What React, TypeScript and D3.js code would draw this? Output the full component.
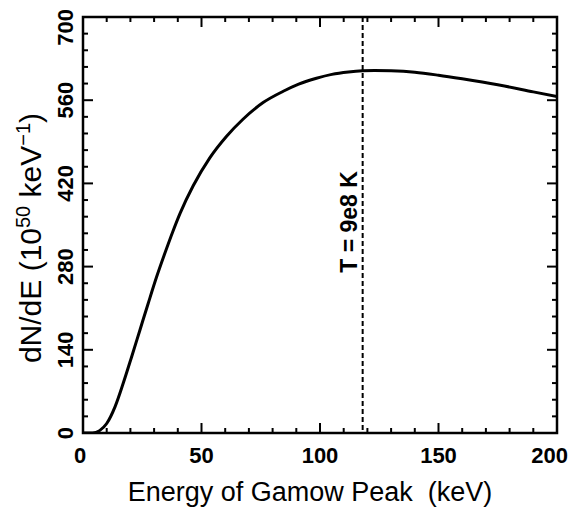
import React from "react";
import * as d3 from "d3";

// Gamow-peak energy spectrum at T = 9e8 K
const energyKeV = [0, 4, 7, 10, 13.5, 17, 20.5, 24, 27.5, 31, 34.5, 38, 41, 46.5, 53.5, 60.5, 67.5, 76, 84.5, 91, 98.5, 105, 112, 118, 123, 130, 140, 150, 160, 175, 190, 200];
const dNdE = [0, 0, 4, 16, 44, 84, 128, 173, 218, 262, 302, 340, 370, 416, 463, 499, 528, 556, 575, 587, 597, 603.5, 607.5, 609.5, 610, 609.5, 607, 602, 596, 586, 574, 566];

const xMajorTicks = [0, 50, 100, 150, 200];
const yMajorTicks = [0, 140, 280, 420, 560, 700];
const peakEnergy = 118;
const peakLabel = "T = 9e8 K";

const W = 571;
const H = 507;
const M = { left: 83, top: 17, right: 557, bottom: 433 };

export default function App() {
  const x = d3.scaleLinear().domain([0, 200]).range([M.left, M.right]);
  const y = d3.scaleLinear().domain([0, 700]).range([M.bottom, M.top]);

  const pts = energyKeV.map((e, i) => [e, dNdE[i]] as [number, number]);
  const line = d3
    .line<[number, number]>()
    .x((d) => x(d[0]))
    .y((d) => y(d[1]))
    .curve(d3.curveMonotoneX);

  const xMinor = d3.range(0, 201, 10).filter((v) => v % 50 !== 0);
  const yMinor = d3.range(0, 701, 28).filter((v) => v % 140 !== 0);
  const majLen = 10;
  const minLen = 5;
  const font = "'Liberation Sans', Arial, Helvetica, sans-serif";

  return (
    <svg width={W} height={H} style={{ position: "absolute", left: 0, top: 0 }} fontFamily={font}>
      <rect width={W} height={H} fill="#fff" />
      <defs>
        <clipPath id="plot">
          <rect x={M.left} y={M.top} width={M.right - M.left} height={M.bottom - M.top} />
        </clipPath>
      </defs>

      {/* ticks on all four sides, pointing inward */}
      <g stroke="#000" strokeWidth={2}>
        {xMajorTicks.map((v) => (
          <g key={"xM" + v}>
            <line x1={x(v)} x2={x(v)} y1={M.bottom} y2={M.bottom - majLen} />
            <line x1={x(v)} x2={x(v)} y1={M.top} y2={M.top + majLen} />
          </g>
        ))}
        {xMinor.map((v) => (
          <g key={"xm" + v}>
            <line x1={x(v)} x2={x(v)} y1={M.bottom} y2={M.bottom - minLen} />
            <line x1={x(v)} x2={x(v)} y1={M.top} y2={M.top + minLen} />
          </g>
        ))}
        {yMajorTicks.map((v) => (
          <g key={"yM" + v}>
            <line x1={M.left} x2={M.left + majLen} y1={y(v)} y2={y(v)} />
            <line x1={M.right} x2={M.right - majLen} y1={y(v)} y2={y(v)} />
          </g>
        ))}
        {yMinor.map((v) => (
          <g key={"ym" + v}>
            <line x1={M.left} x2={M.left + minLen} y1={y(v)} y2={y(v)} />
            <line x1={M.right} x2={M.right - minLen} y1={y(v)} y2={y(v)} />
          </g>
        ))}
      </g>

      {/* spectrum curve */}
      <path d={line(pts) || ""} fill="none" stroke="#000" strokeWidth={3} clipPath="url(#plot)" />

      {/* Gamow peak marker */}
      <line
        x1={x(peakEnergy)}
        x2={x(peakEnergy)}
        y1={M.top}
        y2={M.bottom}
        stroke="#000"
        strokeWidth={2}
        strokeDasharray="5,3"
      />
      <text
        transform={`translate(${x(peakEnergy) - 6},${222}) rotate(-90)`}
        textAnchor="middle"
        fontWeight="bold"
        fontSize={23}
      >
        {peakLabel}
      </text>

      {/* frame */}
      <rect
        x={M.left}
        y={M.top}
        width={M.right - M.left}
        height={M.bottom - M.top}
        fill="none"
        stroke="#000"
        strokeWidth={2.5}
      />

      {/* x tick labels */}
      {xMajorTicks.map((v, i) => {
        const last = i === xMajorTicks.length - 1;
        return (
          <text
            key={"xl" + v}
            x={last ? 568 : x(v) - (i === 0 ? 3 : 0)}
            y={463}
            textAnchor={last ? "end" : "middle"}
            fontWeight="bold"
            fontSize={22}
          >
            {v}
          </text>
        );
      })}
      {/* y tick labels */}
      {yMajorTicks.map((v, i) => {
        const last = i === yMajorTicks.length - 1;
        return (
          <text
            key={"yl" + v}
            transform={`translate(${73},${last ? 9 : y(v)}) rotate(-90)`}
            textAnchor={last ? "end" : "middle"}
            fontWeight="bold"
            fontSize={22}
          >
            {v}
          </text>
        );
      })}

      {/* axis titles */}
      <text
        x={310}
        y={501}
        textAnchor="middle"
        fontSize={27}
        style={{ whiteSpace: "pre" }}
      >
        {"Energy of Gamow Peak  (keV)"}
      </text>
      <text
        transform={`translate(${41},${238}) rotate(-90)`}
        textAnchor="middle"
        fontSize={30}
        style={{ whiteSpace: "pre" }}
      >
        {"dN/dE (10"}
        <tspan baselineShift="super" fontSize={20}>50</tspan>
        <tspan>{" keV"}</tspan>
        <tspan baselineShift="super" fontSize={20}>−1</tspan>
        <tspan>)</tspan>
      </text>
    </svg>
  );
}
